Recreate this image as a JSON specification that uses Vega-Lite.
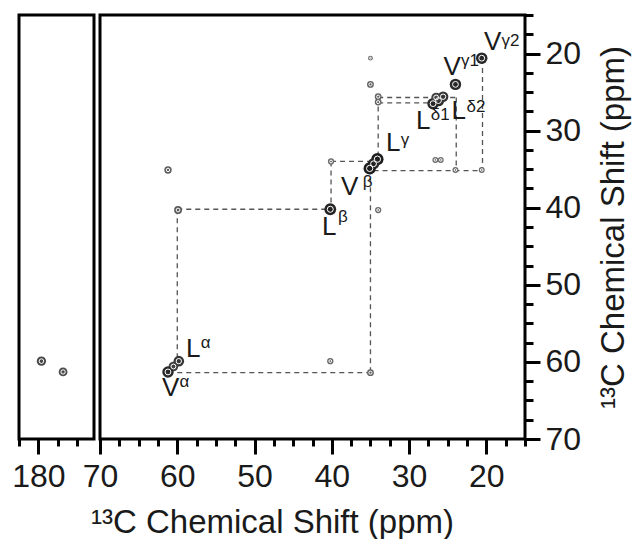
{
  "$schema": "https://vega.github.io/schema/vega-lite/v6.json",
  "padding": {"left": 10, "top": 12, "right": 0, "bottom": 0},
  "background": "white",
  "config": {
    "font": "Liberation Sans",
    "view": {"stroke": "black", "strokeWidth": 3},
    "axis": {
      "grid": false, "domain": false, "tickColor": "black", "tickWidth": 3,
      "labelFont": "Liberation Sans", "labelColor": "#1a1a1a",
      "titleFont": "Liberation Sans", "titleFontSize": 33, "titleFontWeight": "normal", "titleColor": "#1a1a1a",
      "labelFlush": false, "labelOverlap": false
    }
  },
  "datasets": {
    "peaks": [
      {"x": 20.6, "y": 20.6, "intensity": 4},
      {"x": 24.0, "y": 24.0, "intensity": 4},
      {"x": 26.9, "y": 26.5, "intensity": 4},
      {"x": 26.2, "y": 26.1, "intensity": 4},
      {"x": 25.6, "y": 25.6, "intensity": 3.5},
      {"x": 26.5, "y": 25.7, "intensity": 3},
      {"x": 34.1, "y": 33.7, "intensity": 4.5},
      {"x": 34.6, "y": 34.3, "intensity": 4},
      {"x": 35.1, "y": 34.9, "intensity": 4.5},
      {"x": 40.2, "y": 40.2, "intensity": 4.2},
      {"x": 59.8, "y": 59.9, "intensity": 3.5},
      {"x": 60.5, "y": 60.6, "intensity": 3},
      {"x": 61.2, "y": 61.3, "intensity": 4},
      {"x": 35.0, "y": 20.6, "intensity": 1.2},
      {"x": 35.0, "y": 24.0, "intensity": 1.8},
      {"x": 34.0, "y": 25.6, "intensity": 1.8},
      {"x": 34.0, "y": 26.3, "intensity": 1.8},
      {"x": 61.2, "y": 35.1, "intensity": 2},
      {"x": 59.9, "y": 40.3, "intensity": 2.2},
      {"x": 40.1, "y": 34.0, "intensity": 1.6},
      {"x": 34.0, "y": 40.3, "intensity": 1.6},
      {"x": 40.2, "y": 59.9, "intensity": 1.6},
      {"x": 35.0, "y": 61.4, "intensity": 1.8},
      {"x": 26.6, "y": 33.8, "intensity": 1.5},
      {"x": 25.9, "y": 33.8, "intensity": 1.5},
      {"x": 24.0, "y": 35.1, "intensity": 1.5},
      {"x": 20.6, "y": 35.1, "intensity": 1.5}
    ],
    "carbonyl": [
      {"x": 179.6, "y": 59.9, "intensity": 2.8},
      {"x": 176.8, "y": 61.3, "intensity": 2.6}
    ],
    "lines": [
      {"x": 34.0, "y": 25.7, "xe": 23.9, "ye": 25.7},
      {"x": 34.0, "y": 26.4, "xe": 27.0, "ye": 26.4},
      {"x": 34.0, "y": 25.7, "xe": 34.0, "ye": 33.6},
      {"x": 23.9, "y": 25.7, "xe": 23.9, "ye": 35.2},
      {"x": 34.6, "y": 35.2, "xe": 20.5, "ye": 35.2},
      {"x": 20.5, "y": 20.7, "xe": 20.5, "ye": 35.2},
      {"x": 40.1, "y": 34.0, "xe": 34.5, "ye": 34.0},
      {"x": 40.1, "y": 34.0, "xe": 40.1, "ye": 40.2},
      {"x": 60.0, "y": 40.2, "xe": 40.2, "ye": 40.2},
      {"x": 60.0, "y": 40.2, "xe": 60.0, "ye": 59.9},
      {"x": 60.0, "y": 61.4, "xe": 35.0, "ye": 61.4},
      {"x": 35.0, "y": 35.0, "xe": 35.0, "ye": 61.4}
    ],
    "labels": [
      {"t": "V", "x": 20.32, "y": 19.54},
      {"t": "V", "x": 25.54, "y": 22.82},
      {"t": "L", "x": 24.5, "y": 28.53},
      {"t": "L", "x": 29.12, "y": 29.83},
      {"t": "L", "x": 33.0, "y": 32.68},
      {"t": "V", "x": 38.82, "y": 38.39},
      {"t": "L", "x": 41.28, "y": 43.57},
      {"t": "L", "x": 58.87, "y": 59.36},
      {"t": "V", "x": 61.98, "y": 64.42}
    ],
    "sups": [
      {"t": "γ2", "x": 18.05, "y": 18.96},
      {"t": "γ1", "x": 23.28, "y": 21.61},
      {"t": "δ2", "x": 22.58, "y": 27.58},
      {"t": "δ1", "x": 27.2, "y": 28.66},
      {"t": "γ", "x": 31.08, "y": 31.8},
      {"t": "β", "x": 36.0, "y": 37.31},
      {"t": "β", "x": 39.2, "y": 41.85},
      {"t": "α", "x": 56.95, "y": 58.19},
      {"t": "α", "x": 59.7, "y": 63.25}
    ]
  },
  "spacing": 6,
  "bounds": "flush",
  "hconcat": [
    {
      "width": 75,
      "height": 424,
      "data": {"name": "carbonyl"},
      "encoding": {
        "x": {"field": "x", "type": "quantitative",
          "scale": {"domain": [172.8, 182.5], "reverse": true, "nice": false, "zero": false},
          "axis": {"values": [182.5, 180, 177.5, 175], "labelExpr": "datum.value == 180 ? '180' : ''",
            "labelFontSize": {"condition": {"test": "datum.value % 10 != 0", "value": 0}, "value": 32},
            "tickSize": {"condition": {"test": "datum.value % 10 != 0", "value": 7}, "value": 15},
            "labelPadding": 7, "title": null}},
        "y": {"field": "y", "type": "quantitative",
          "scale": {"domain": [15, 70], "reverse": true, "nice": false, "zero": false},
          "axis": null}
      },
      "layer": [
        {
          "mark": {"type": "point", "shape": "circle", "filled": true, "opacity": 1, "strokeWidth": 0},
          "encoding": {
            "size": {"field": "intensity", "type": "quantitative", "scale": {"domain": [1, 5], "range": [16, 170]}, "legend": null},
            "color": {"field": "intensity", "type": "quantitative", "scale": {"domain": [1, 5], "range": ["#7a7a7a", "#111111"]}, "legend": null}
          }
        },
        {
          "mark": {"type": "point", "shape": "circle", "filled": false, "opacity": 1, "color": "white", "strokeWidth": 1},
          "encoding": {
            "size": {"field": "intensity", "type": "quantitative", "scale": {"domain": [1, 5], "range": [1, 45]}, "legend": null}
          }
        }
      ],
      "resolve": {"scale": {"size": "independent"}}
    },
    {
      "width": 425,
      "height": 424,
      "encoding": {
        "x": {"field": "x", "type": "quantitative",
          "scale": {"domain": [15, 70], "reverse": true, "nice": false, "zero": false},
          "axis": {"values": [15, 17.5, 20, 22.5, 25, 27.5, 30, 32.5, 35, 37.5, 40, 42.5, 45, 47.5, 50, 52.5, 55, 57.5, 60, 62.5, 65, 67.5, 70],
            "labelExpr": "datum.value % 10 == 0 ? datum.label : ''",
            "labelFontSize": {"condition": {"test": "datum.value % 10 != 0", "value": 0}, "value": 32},
            "tickSize": {"condition": {"test": "datum.value % 10 != 0", "value": 7}, "value": 15},
            "labelPadding": 7,
            "title": "¹³C Chemical Shift (ppm)", "titleX": 172, "titleY": 93, "titleAlign": "center", "titleBaseline": "alphabetic"}},
        "y": {"field": "y", "type": "quantitative",
          "scale": {"domain": [15, 70], "reverse": true, "nice": false, "zero": false},
          "axis": {"orient": "right", "values": [15, 17.5, 20, 22.5, 25, 27.5, 30, 32.5, 35, 37.5, 40, 42.5, 45, 47.5, 50, 52.5, 55, 57.5, 60, 62.5, 65, 67.5, 70],
            "labelExpr": "datum.value % 10 == 0 ? datum.label : ''",
            "labelFontSize": {"condition": {"test": "datum.value % 10 != 0", "value": 0}, "value": 32},
            "tickSize": {"condition": {"test": "datum.value % 10 != 0", "value": 8}, "value": 15},
            "labelPadding": 5,
            "title": "¹³C Chemical Shift (ppm)", "titleAngle": 270, "titleX": 98, "titleY": 212, "titleAlign": "center", "titleBaseline": "alphabetic"}}
      },
      "layer": [
        {
          "data": {"name": "lines"},
          "mark": {"type": "rule", "color": "#555555", "strokeWidth": 1.3, "strokeDash": [5, 4]},
          "encoding": {
            "x2": {"field": "xe"},
            "y2": {"field": "ye"}
          }
        },
        {
          "data": {"name": "peaks"},
          "mark": {"type": "point", "shape": "circle", "filled": true, "opacity": 1, "strokeWidth": 0},
          "encoding": {
            "size": {"field": "intensity", "type": "quantitative", "scale": {"domain": [1, 5], "range": [16, 170]}, "legend": null},
            "color": {"field": "intensity", "type": "quantitative", "scale": {"domain": [1, 5], "range": ["#7a7a7a", "#111111"]}, "legend": null}
          }
        },
        {
          "data": {"name": "peaks"},
          "mark": {"type": "point", "shape": "circle", "filled": false, "opacity": 1, "color": "white", "strokeWidth": 1},
          "encoding": {
            "size": {"field": "intensity", "type": "quantitative", "scale": {"domain": [1, 5], "range": [1, 45]}, "legend": null}
          }
        },
        {
          "data": {"name": "labels"},
          "mark": {"type": "text", "align": "left", "baseline": "alphabetic", "fontSize": 26, "color": "#1a1a1a", "font": "Liberation Sans"},
          "encoding": {"text": {"field": "t"}}
        },
        {
          "data": {"name": "sups"},
          "mark": {"type": "text", "align": "left", "baseline": "alphabetic", "fontSize": 17, "color": "#1a1a1a", "font": "Liberation Sans"},
          "encoding": {"text": {"field": "t"}}
        }
      ],
      "resolve": {"scale": {"size": "independent"}}
    }
  ]
}
